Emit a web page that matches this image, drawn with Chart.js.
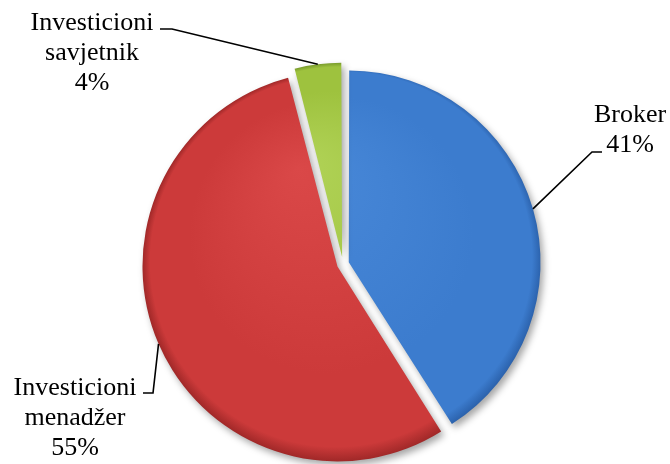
<!DOCTYPE html>
<html>
<head>
<meta charset="utf-8">
<script src="https://cdn.jsdelivr.net/npm/chart.js@4"></script>
<style>
    html, body { margin: 0; padding: 0; background: #ffffff; }
    #wrap { width: 670px; height: 464px; }
</style>
</head>
<body>
<div id="wrap"><canvas id="ownerType"></canvas></div>
<script>
const categories = ["Broker", "Investicioni menadžer", "Investicioni savjetnik"];
const shares = [41, 55, 4];

// base / light / rim colour per slice
const sliceColors = [
    ["rgb(60, 124, 206)", "rgb(72, 136, 216)", "rgb(38, 90, 162)"],
    ["rgb(204, 58, 58)", "rgb(218, 72, 72)", "rgb(160, 40, 40)"],
    ["rgb(158, 194, 62)", "rgb(176, 210, 86)", "rgb(114, 148, 40)"]
];

// where each label sits: centre x, first baseline, elbow and end of the leader
const labelLayout = [
    { x: 630, y: 122, elbow: [592, 152], end: [602, 152] },
    { x: 75, y: 395, elbow: [153, 393], end: [143, 393] },
    { x: 92, y: 30, elbow: [172, 29], end: [160, 29] }
];

function sliceFill(context) {
    const chart = context.chart;
    const area = chart.chartArea;
    const c = sliceColors[context.dataIndex];
    if (!area) return c[0];
    const cx = (area.left + area.right) / 2;
    const cy = (area.top + area.bottom) / 2;
    const r = 195;
    const g = chart.ctx.createRadialGradient(cx - r * 0.2, cy - r * 0.5, 0, cx, cy, r);
    g.addColorStop(0, c[1]);
    g.addColorStop(0.7, c[0]);
    g.addColorStop(0.95, c[0]);
    g.addColorStop(1, c[2]);
    return g;
}

const sliceShadow = {
    id: "sliceShadow",
    beforeDatasetsDraw(chart) {
        const ctx = chart.ctx;
        ctx.save();
        ctx.shadowColor = "rgba(0, 0, 0, 0.35)";
        ctx.shadowBlur = 7;
        ctx.shadowOffsetX = 3;
        ctx.shadowOffsetY = 4;
    },
    afterDatasetsDraw(chart) {
        chart.ctx.restore();
    }
};

const sliceLabels = {
    id: "sliceLabels",
    afterDraw(chart) {
        const ctx = chart.ctx;
        const arcs = chart.getDatasetMeta(0).data;
        const total = shares.reduce((a, b) => a + b, 0);
        ctx.save();
        ctx.font = "26px 'Liberation Serif', 'Times New Roman', serif";
        ctx.fillStyle = "#000";
        ctx.strokeStyle = "#000";
        ctx.lineWidth = 1.6;
        ctx.textAlign = "center";
        ctx.textBaseline = "alphabetic";
        arcs.forEach(function (arc, i) {
            const lay = labelLayout[i];
            const mid = (arc.startAngle + arc.endAngle) / 2;
            const circ = arc.endAngle - arc.startAngle;
            const t = (arc.options.offset || 0) / 4;
            const fix = 1 - Math.sin(Math.min(Math.PI, circ));
            const r = arc.outerRadius + t * fix + t;
            const px = arc.x + Math.cos(mid) * r;
            const py = arc.y + Math.sin(mid) * r;
            ctx.beginPath();
            ctx.moveTo(px, py);
            ctx.lineTo(lay.elbow[0], lay.elbow[1]);
            ctx.lineTo(lay.end[0], lay.end[1]);
            ctx.stroke();
            const words = categories[i].split(" ");
            const pct = Math.round(shares[i] / total * 100) + "%";
            const lines = words.concat([pct]);
            lines.forEach(function (txt, k) {
                ctx.fillText(txt, lay.x, lay.y + k * 30);
            });
        });
        ctx.restore();
    }
};

document.addEventListener("DOMContentLoaded", function () {
    const ctx = document.getElementById("ownerType").getContext("2d");

    new Chart(ctx, {
        type: "pie",
        data: {
            labels: categories,
            datasets: [
                {
                    data: shares,
                    borderWidth: 0,
                    offset: [24, 24, 28],
                    backgroundColor: sliceFill
                }
            ]
        },
        options: {
            responsive: true,
            maintainAspectRatio: false,
            animation: false,
            radius: 189,
            layout: {
                padding: { left: 16, right: 0, top: 66, bottom: 2 }
            },
            plugins: {
                legend: { display: false },
                tooltip: { enabled: false }
            }
        },
        plugins: [sliceShadow, sliceLabels]
    });
});
</script>
</body>
</html>
